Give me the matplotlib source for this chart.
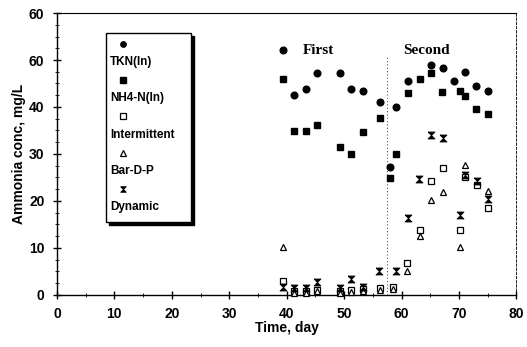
import matplotlib
matplotlib.use("Agg")
import matplotlib.pyplot as plt
from matplotlib.patches import Rectangle
from matplotlib.ticker import MultipleLocator, FixedLocator, FixedFormatter

plt.rcParams['font.family'] = ['Liberation Sans', 'DejaVu Sans']

# ---- data ----
tkn_days = [39.3, 41.3, 43.3, 45.3, 49.3, 51.2, 53.2, 56.2, 58.0, 59.0, 61.1, 65.2, 67.2, 69.2, 71.1, 73.0, 75.1]
tkn_vals = [52.1, 42.5, 43.8, 47.3, 47.3, 43.8, 43.3, 41.1, 27.2, 40.1, 45.5, 48.9, 48.4, 45.5, 47.5, 44.5, 43.4]

nh4_days = [39.3, 41.3, 43.3, 45.3, 49.3, 51.2, 53.2, 56.2, 58.0, 59.1, 61.1, 63.2, 65.2, 67.1, 70.2, 71.1, 73.0, 75.1]
nh4_vals = [45.9, 34.8, 34.8, 36.2, 31.4, 30.0, 34.6, 37.6, 24.8, 30.0, 42.9, 45.9, 47.3, 43.1, 43.5, 42.4, 39.6, 38.5]

int_days = [39.3, 41.3, 43.3, 45.3, 49.3, 51.2, 53.2, 56.2, 58.5, 61.0, 63.2, 65.2, 67.2, 70.1, 71.1, 73.1, 75.1]
int_vals = [3.0, 0.8, 0.8, 1.0, 0.8, 1.0, 1.2, 1.4, 1.6, 6.9, 13.8, 24.3, 27.1, 13.8, 25.0, 23.3, 18.4]

bar_days = [39.3, 41.3, 43.3, 45.3, 49.3, 51.2, 53.2, 56.2, 58.5, 61.0, 63.2, 65.2, 67.2, 70.1, 71.1, 75.1]
bar_vals = [10.3, 0.5, 0.5, 0.8, 0.5, 0.6, 0.8, 1.0, 1.2, 5.0, 12.5, 20.3, 22.0, 10.1, 27.6, 22.1]

dyn_days = [39.3, 41.3, 43.3, 45.3, 49.3, 51.2, 53.2, 56.0, 59.0, 61.1, 63.0, 65.2, 67.2, 70.1, 71.1, 73.1, 75.1]
dyn_vals = [1.6, 1.4, 1.4, 2.8, 1.4, 3.4, 1.6, 5.0, 5.0, 16.3, 24.6, 34.0, 33.5, 17.0, 25.5, 24.3, 20.4]

phase_split = 57.5
phase_top = 51
y_ticks = [0, 10, 20, 30, 40, 50, 60]
y_tick_labels = ['0', '10', '20', '30', '40', '60', '60']
x_ticks = [0, 10, 20, 30, 40, 50, 60, 70, 80]
legend_labels = ['TKN(In)', 'NH4-N(In)', 'Intermittent', 'Bar-D-P', 'Dynamic']

# ---- figure ----
fig = plt.figure(figsize=(5.27, 3.47), dpi=100)
ax = fig.add_axes([0.108, 0.150, 0.872, 0.8125])

hourglass = [(-1, 1), (1, 1), (-1, -1), (1, -1), (-1, 1)]
styles = [
    dict(marker='o', ms=4.8, mfc='black', mec='black'),
    dict(marker='s', ms=4.8, mfc='black', mec='black'),
    dict(marker='s', ms=4.8, mfc='white', mec='black', mew=0.9),
    dict(marker='^', ms=4.8, mfc='white', mec='black', mew=0.9),
    dict(marker=hourglass, ms=5.0, mfc='black', mec='black', mew=0.6),
]
series = [(tkn_days, tkn_vals), (nh4_days, nh4_vals), (int_days, int_vals),
          (bar_days, bar_vals), (dyn_days, dyn_vals)]
for (d, v), st in zip(series, styles):
    ax.plot(d, v, ls='none', zorder=3, clip_on=False, **st)

ax.vlines(phase_split, 0, phase_top, colors='#555555', linestyles=(0, (1, 2)), lw=0.8)

ax.text(42.8, 52.0, 'First', family=['Liberation Serif', 'DejaVu Serif'],
        fontweight='bold', fontsize=11, va='center', ha='left')
ax.text(60.3, 52.0, 'Second', family=['Liberation Serif', 'DejaVu Serif'],
        fontweight='bold', fontsize=11, va='center', ha='left')

ax.set_xlim(0, 80)
ax.set_ylim(0, 60)
ax.xaxis.set_major_locator(FixedLocator(x_ticks))
ax.yaxis.set_major_locator(FixedLocator(y_ticks))
ax.yaxis.set_major_formatter(FixedFormatter(y_tick_labels))
ax.xaxis.set_minor_locator(MultipleLocator(5))
ax.yaxis.set_minor_locator(MultipleLocator(2.5))
ax.tick_params(which='major', direction='inout', length=6, width=1.0,
               labelsize=10, pad=6)
ax.tick_params(which='minor', direction='inout', length=3, width=0.6)
for lab in ax.get_xticklabels() + ax.get_yticklabels():
    lab.set_fontweight('bold')
for sp in ax.spines.values():
    sp.set_linewidth(1.0)
ax.spines['top'].set_linewidth(0.8)
ax.spines['right'].set_linestyle((0, (3, 2)))
ax.spines['right'].set_linewidth(0.6)

ax.set_xlabel('Time, day', fontweight='bold', fontsize=10, labelpad=0)
ax.set_ylabel('Ammonia conc, mg/L', fontweight='bold', fontsize=10, labelpad=2)

# ---- legend (marker above label) ----
bx0, bx1, by0, by1 = 0.1075, 0.2925, 0.259, 0.929
ax.add_patch(Rectangle((bx0 + 0.006, by0 - 0.010), bx1 - bx0, by1 - by0,
                       transform=ax.transAxes, facecolor='black', edgecolor='black',
                       zorder=4))
ax.add_patch(Rectangle((bx0, by0), bx1 - bx0, by1 - by0, transform=ax.transAxes,
                       facecolor='white', edgecolor='black', lw=1.0, zorder=5))
mx, tx = 0.144, 0.116
step = (by1 - by0 - 0.03) / 5
for i, (lab, st) in enumerate(zip(legend_labels, styles)):
    ytop = by1 - 0.04 - i * step
    ax.plot([mx], [ytop], transform=ax.transAxes, ls='none', zorder=6,
            **{**st, 'ms': st['ms'] * 0.8})
    ax.text(tx, ytop - 0.064, lab, transform=ax.transAxes, fontsize=8.5,
            fontweight='bold', va='center', ha='left', zorder=6)

fig.savefig('out.png', dpi=100)
